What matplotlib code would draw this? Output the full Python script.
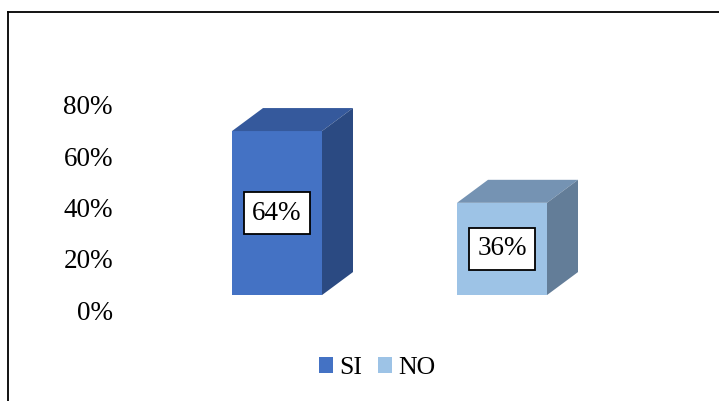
import matplotlib; matplotlib.use("Agg")
import matplotlib.pyplot as plt
from matplotlib.patches import Polygon, Rectangle, Patch
from matplotlib.lines import Line2D

categories = ["SI", "NO"]
values = [0.64, 0.36]
labels = ["64%", "36%"]
ticks = [0.0, 0.2, 0.4, 0.6, 0.8]
tick_labels = ["0%", "20%", "40%", "60%", "80%"]

front = ["#4472C4", "#9DC3E6"]
top = ["#35599C", "#7593B3"]
side = ["#2B4A82", "#637D98"]

plt.rcParams["font.family"] = ["Liberation Serif", "DejaVu Serif"]
W, H = 719, 401
fig = plt.figure(figsize=(W / 100, H / 100), dpi=100)
ax = fig.add_axes([0, 0, 1, 1])
ax.set_axis_off()
# pixel mapping: x 225 px per category, y 256.25 px per unit
ax.set_xlim(-277 / 225, (W - 277) / 225)
ax.set_ylim(-88 / 256.25, (H - 88) / 256.25)

base, bw, dx, dy = 0.07, 0.4, 31 / 225, 23 / 256.25
for i, (v, lab) in enumerate(zip(values, labels)):
    x0, x1 = i - bw / 2, i + bw / 2
    ax.add_patch(Rectangle((x0, base), bw, v, fc=front[i], ec="none"))
    ax.add_patch(Polygon([(x0, base + v), (x1, base + v), (x1 + dx, base + v + dy), (x0 + dx, base + v + dy)],
                         closed=True, fc=top[i], ec="none"))
    ax.add_patch(Polygon([(x1, base), (x1 + dx, base + dy), (x1 + dx, base + v + dy), (x1, base + v)],
                         closed=True, fc=side[i], ec="none"))
    ax.text(i, base + v / 2, lab, ha="center", va="center", fontsize=19.5,
            bbox=dict(boxstyle="square,pad=0.3", fc="white", ec="black", lw=1.3))

for t, tl in zip(ticks, tick_labels):
    ax.text(-(277 - 113) / 225, t, tl, ha="right", va="center", fontsize=19.5)

handles = [Patch(fc=c, ec="none") for c in front]
fig.legend(handles, categories, loc="center", bbox_to_anchor=(377 / W, (H - 368) / H), ncol=2,
           frameon=False, fontsize=18.5, handlelength=0.55, handleheight=0.55,
           handletextpad=0.25, columnspacing=0.6)

fig.add_artist(Line2D([7.5 / W, 7.5 / W], [0, (H - 12) / H], color="black", lw=1.3))
fig.add_artist(Line2D([7.5 / W, 1], [(H - 12) / H, (H - 12) / H], color="black", lw=1.3))

fig.savefig("out.png", dpi=100)
